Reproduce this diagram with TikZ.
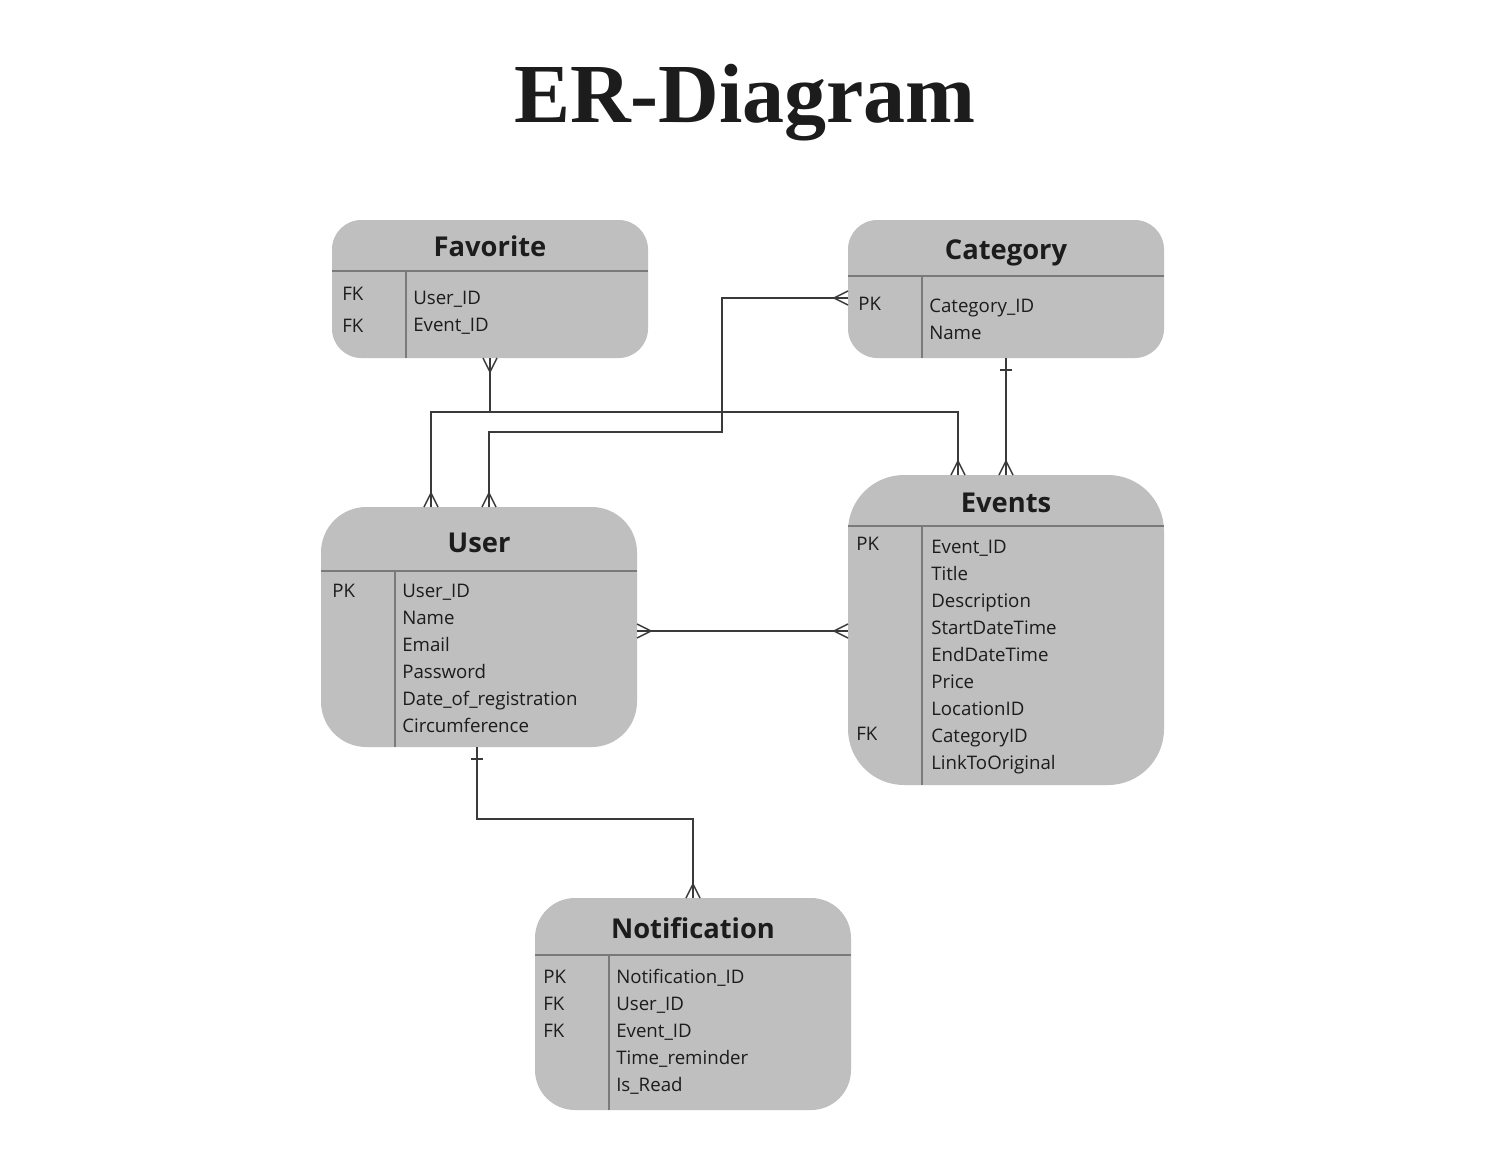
\documentclass[tikz,border=0pt]{standalone}
\usepackage{fontspec}
\setmainfont{Open Sans}
\newfontfamily\titlefont{Liberation Serif}
\usetikzlibrary{calc}
\definecolor{boxfill}{HTML}{BFBFBF}
\definecolor{divcol}{HTML}{7A7A7A}
\definecolor{txt}{HTML}{1C1C1C}
\definecolor{conncol}{HTML}{3A3A3A}
\newcommand\crowV[2]{\draw[conn] ($(#1)+(-7,0)$) -- ($(#1)+(0,#2)$) -- ($(#1)+(7,0)$);}
\newcommand\crowH[2]{\draw[conn] ($(#1)+(0,-7)$) -- ($(#1)+(#2,0)$) -- ($(#1)+(0,7)$);}
\newcommand\fieldlist[4]{\foreach \t [count=\i] in {#4} \node[field] (#1-\i) at (#2,{#3+27*(\i-1)}) {\t};}
\begin{document}
\begin{tikzpicture}[x=0.75pt,y=-0.75pt,
  entity/.style={fill=boxfill,draw=none,inner sep=0pt,outer sep=0pt,minimum width=237pt},
  head/.style={anchor=base,inner sep=0pt,text=txt,font=\bfseries\fontsize{20.5pt}{22pt}\selectfont},
  field/.style={anchor=base west,inner sep=0pt,text=txt,font=\fontsize{14pt}{16pt}\selectfont},
  div/.style={draw=divcol,line width=0.9pt},
  conn/.style={draw=conncol,line width=1.1pt}]
\useasboundingbox (0,0) rectangle (1488,1168);
\fill[white] (0,0) rectangle (1488,1168);

% title
\node[anchor=base,inner sep=0pt,text=txt,font=\titlefont\bfseries\fontsize{63pt}{70pt}\selectfont] (title) at (745,122) {ER-Diagram};

% entity boxes
\node[entity,minimum height=103.5pt,rounded corners=22pt] (fav) at (490,289) {};
\node[entity,minimum height=103.5pt,rounded corners=22pt] (cat) at (1006,289) {};
\node[entity,minimum height=180pt,rounded corners=34pt] (user) at (479,627) {};
\node[entity,minimum height=232.5pt,rounded corners=42pt] (events) at (1006,630) {};
\node[entity,minimum height=159pt,rounded corners=30pt] (notif) at (693,1004) {};

% dividers
\draw[div] (332,271) -- (648,271); \draw[div] (406,271) -- (406,358);
\draw[div] (848,276) -- (1164,276); \draw[div] (922,276) -- (922,358);
\draw[div] (321,571) -- (637,571); \draw[div] (395,571) -- (395,747);
\draw[div] (848,526) -- (1164,526); \draw[div] (922,526) -- (922,785);
\draw[div] (535,955) -- (851,955); \draw[div] (609,955) -- (609,1110);

% headers
\node[head] (favH) at (490,256) {Favorite};
\node[head] (catH) at (1006,259) {Category};
\node[head] (userH) at (479,552) {User};
\node[head] (eventsH) at (1006,512) {Events};
\node[head] (notifH) at (693,938) {Notification};

% keys
\node[field] (favK1) at (342,300) {FK};
\node[field] (favK2) at (342,332) {FK};
\node[field] (catK1) at (858,310) {PK};
\node[field] (userK1) at (332,597) {PK};
\node[field] (eventsK1) at (856,550) {PK};
\node[field] (eventsK2) at (856,740) {FK};
\node[field] (notifK1) at (543,983) {PK};
\node[field] (notifK2) at (543,1010) {FK};
\node[field] (notifK3) at (543,1037) {FK};

% fields
\fieldlist{favF}{413}{304}{User\_ID,Event\_ID}
\fieldlist{catF}{929}{312}{Category\_ID,Name}
\fieldlist{userF}{402}{597}{User\_ID,Name,Email,Password,Date\_of\_registration,Circumference}
\fieldlist{eventsF}{931}{553}{Event\_ID,Title,Description,StartDateTime,EndDateTime,Price,LocationID,CategoryID,LinkToOriginal}
\fieldlist{notifF}{616}{983}{Notification\_ID,User\_ID,Event\_ID,Time\_reminder,Is\_Read}

% connectors
\coordinate (uA) at ($(user.north)+(-48,0)$);
\coordinate (uB) at ($(user.north)+(10,0)$);
\coordinate (eA) at ($(events.north)+(-48,0)$);
\coordinate (cW) at ($(cat.west)+(0,9)$);
\coordinate (uE) at ($(user.east)+(0,4)$);
\coordinate (eW) at ($(events.west)+(0,1)$);
\coordinate (uS) at ($(user.south)+(-2,0)$);

\draw[conn] (fav.south) -- ++(0,54) -| (uA);
\draw[conn] (fav.south) -- ++(0,54) -| (eA);
\draw[conn] (cW) -| (722,432) -| (uB);
\draw[conn] (cat.south) -- (events.north);
\draw[conn] (uE) -- (eW);
\draw[conn] (uS) -- ++(0,72) -| (notif.north);

% crow's feet
\crowV{fav.south}{14}
\crowV{uA}{-14}
\crowV{uB}{-14}
\crowV{eA}{-14}
\crowV{events.north}{-14}
\crowV{notif.north}{-14}
\crowH{cW}{-14}
\crowH{eW}{-14}
\crowH{uE}{14}
% single bars
\draw[conn] ($(cat.south)+(-6,12)$) -- ++(12,0);
\draw[conn] ($(uS)+(-6,12)$) -- ++(12,0);
\end{tikzpicture}
\end{document}
